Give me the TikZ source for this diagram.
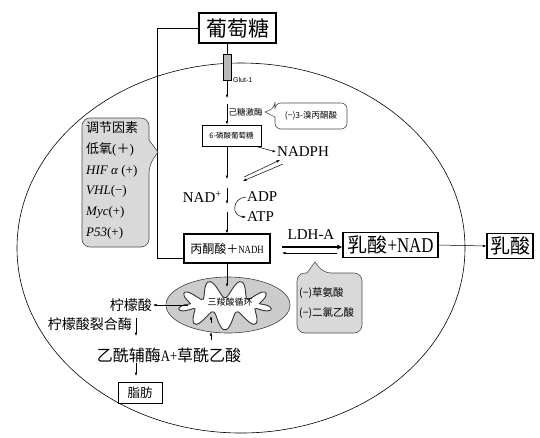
\documentclass[tikz,border=0pt]{standalone}
\usepackage{fontspec}
\setmainfont{Liberation Serif}
\setsansfont{Liberation Sans}
\newfontfamily\cjk{Noto Sans CJK SC}
\newfontfamily\narrowserif[FakeStretch=0.8]{Liberation Serif}
\usetikzlibrary{arrows.meta,shapes.geometric}

\begin{document}
\begin{tikzpicture}[x=1pt,y=-1pt,
  arr/.style={-{Latex[length=3.5pt,width=2.6pt]}, line width=0.5pt},
  link/.style={line width=0.5pt},
  box/.style={draw, line width=1.1pt, fill=white, inner sep=1pt},
  txt/.style={inner sep=1pt},
  zh/.style={font={\cjk\fontsize{#1}{#1}\selectfont}},
  lat/.style={font={\fontsize{#1}{#1}\selectfont}},
  graybubble/.style={draw=gray!60!black, fill=gray!30, line width=0.6pt},
  whitebubble/.style={draw=gray!60!black, fill=white, line width=0.6pt}]
\useasboundingbox (0,0) rectangle (540,437);

% cell membrane
\draw[line width=0.6pt] (241,248) ellipse [x radius=224, y radius=185];

% glucose outside the cell
\node[box, minimum width=77, minimum height=30, zh=21] (glc) at (237.5,28) {葡萄糖};

% Glut-1 transporter
\node[draw, fill=gray!55, line width=0.5pt, minimum width=8, minimum height=26, inner sep=0] (glut) at (227,67) {};
\node[txt, anchor=west, font={\sffamily\fontsize{7}{7}\selectfont}] (glutlab) at (232,80) {Glut-1};
\draw[link] (glut.north |- glc.south) -- (glut.north);
\coordinate (hkin) at (227,98);
\draw[arr] (glut.south) -- (hkin);

% hexokinase and its inhibitor
\node[txt, anchor=west, zh=8.5] (hk) at (227.5,112) {己糖激酶};
\draw[whitebubble, rounded corners=6] (275,117) -- (275,129) -- (347,129) -- (347,103) -- (275,103) -- (275,108) [sharp corners] -- (265,112) -- cycle;
\node[txt, zh=8.5] (brp) at (311,116) {(−)3-溴丙酮酸};

% glucose-6-phosphate
\node[box, line width=1pt, minimum width=59, minimum height=21, zh=7.5] (g6p) at (231.5,135.5) {6-磷酸葡萄糖};
\coordinate (hktop) at (227,104);
\draw[arr] (hktop) -- (g6p.north -| glut);

% pentose phosphate branch
\node[txt, anchor=west, lat=15] (nadph) at (276,152) {NADPH};
\draw[arr] ([xshift=-5pt]g6p.south east) -- (nadph.west);
\coordinate (ppa) at (244,177);
\coordinate (ppb) at (280,160);
\coordinate (ppc) at (283,164);
\coordinate (ppd) at (243,181);
\draw[arr] (ppa) -- (ppb);
\draw[arr] (ppc) -- (ppd);

% glycolysis axis
\coordinate (gl1) at (227,179);
\coordinate (gl2) at (227,188);
\coordinate (gl3) at (227,204);
\coordinate (gl4) at (227,212);
\draw[arr] (g6p.south -| glut) -- (gl1);
\draw[arr] (gl2) -- (gl3);

\node[txt, anchor=east, lat=15] (nad) at (223,197) {NAD\textsuperscript{+}};
\node[txt, anchor=west, lat=15] (adp) at (246,197) {ADP};
\node[txt, anchor=west, lat=15] (atp) at (246,217) {ATP};
\draw[arr] (adp.west) .. controls (232,198) and (231,216) .. (atp.west);

% pyruvate
\node[box, minimum width=86, minimum height=29] (pyr) at (227,248.5)
  {{\cjk\fontsize{12}{12}\selectfont 丙酮酸＋}{\narrowserif\fontsize{11}{11}\selectfont NADH}};
\draw[arr] (gl4) -- (pyr.north);

% lactate
\node[box, minimum width=95, minimum height=25] (lac) at (390.5,245)
  {{\cjk\fontsize{20}{20}\selectfont 乳酸}{\narrowserif\fontsize{21}{21}\selectfont +NAD}};
\node[box, minimum width=46, minimum height=25, zh=20] (lacout) at (510,246) {乳酸};
\node[txt, lat=15] (ldh) at (311,235) {LDH-A};
\draw[line width=1.8pt, -{Latex[length=5pt,width=5pt]}] ([yshift=1.5pt]pyr.east) ++(11,0) coordinate (ldhs) -- (ldhs -| lac.west);
\coordinate (ldhr) at (337,253);
\draw[arr] (ldhr) -- ++(-55,0) coordinate (ldhl);
\draw[arr] (lac.east) -- (lacout.west);

% LDH-A inhibitors
\draw[graybubble, rounded corners=8] (307,273) -- (297,273) -- (297,333) -- (362,333) -- (362,273) -- (323,273) [sharp corners] -- (315,262) -- cycle;
\node[txt, anchor=west, zh=10.5] (oxa) at (298,293) {(−)草氨酸};
\node[txt, anchor=west, zh=10.5] (dca) at (298,313) {(−)二氯乙酸};

% glucose line to pyruvate
\coordinate (gb1) at (157,28);
\coordinate (gb2) at (157,258);
\draw[link] (glc.west) -- (gb1) -- (gb2) -- (gb2 -| pyr.west);

% regulating factors
\draw[graybubble, rounded corners=8] (149,140) -- (149,118) -- (82,118) -- (82,247) -- (149,247) -- (149,165) [sharp corners] -- (158,152) -- cycle;
\node[txt, anchor=west, zh=13] (rf0) at (85,128) {调节因素};
\node[txt, anchor=west, font={\fontsize{13}{13}\selectfont}] (rf1) at (85,149) {{\cjk 低氧}({\cjk ＋})};
\node[txt, anchor=west, font={\fontsize{13}{13}\selectfont}] (rf2) at (85,171) {\textit{HIF α} (+)};
\node[txt, anchor=west, font={\fontsize{13}{13}\selectfont}] (rf3) at (85,191) {\textit{VHL}(−)};
\node[txt, anchor=west, font={\fontsize{13}{13}\selectfont}] (rf4) at (85,212) {\textit{Myc}(+)};
\node[txt, anchor=west, font={\fontsize{13}{13}\selectfont}] (rf5) at (85,233) {\textit{P53}(+)};

% mitochondrion with folded inner membrane
\node[ellipse, draw=gray!50!black, fill=gray!40, line width=0.6pt, minimum width=124, minimum height=56, inner sep=0] (mito) at (228,305) {};
\draw[fill=white, draw=gray!40!black, line width=0.9pt]
  plot[smooth cycle, samples=90, domain=0:356]
  ({225+(41+6*sin(9*\x))*cos(\x)}, {305+(16+9*sin(9*\x))*sin(\x)});
\node[txt, zh=9] (tca) at (230,302) {三羧酸循环};
\coordinate (tcain) at (227,287);
\draw[arr] (pyr.south -| tcain) -- (tcain);

% citrate export and fatty acid synthesis
\node[txt, anchor=east, zh=14] (cit) at (153,305) {柠檬酸};
\coordinate (citout) at (188,305);
\draw[arr] (citout) -- (cit.east);
\node[txt, anchor=east, zh=14] (acl) at (133,324) {柠檬酸裂合酶};
\coordinate (acla) at (136,318);
\coordinate (aclb) at (136,336);
\draw[arr] (acla) -- (aclb);

\node[txt, font={\fontsize{16}{16}\selectfont}] (acoa) at (169,355) {{\cjk 乙酰辅酶}{\narrowserif A+}{\cjk 草酰乙酸}};
\coordinate (oaa1) at (211,340);
\coordinate (oaa2) at (211,332);
\coordinate (oaa3) at (211,323);
\coordinate (oaa4) at (211,316);
\draw[arr] (oaa1) -- (oaa2);
\draw[arr] (oaa3) -- (oaa4);

\node[box, line width=1pt, minimum width=44, minimum height=21, zh=12.5] (fat) at (140,392.5) {脂肪};
\coordinate (fa1) at (136,363);
\coordinate (fa2) at (136,376);
\draw[arr] (fa1) -- (fa2);
\end{tikzpicture}
\end{document}
